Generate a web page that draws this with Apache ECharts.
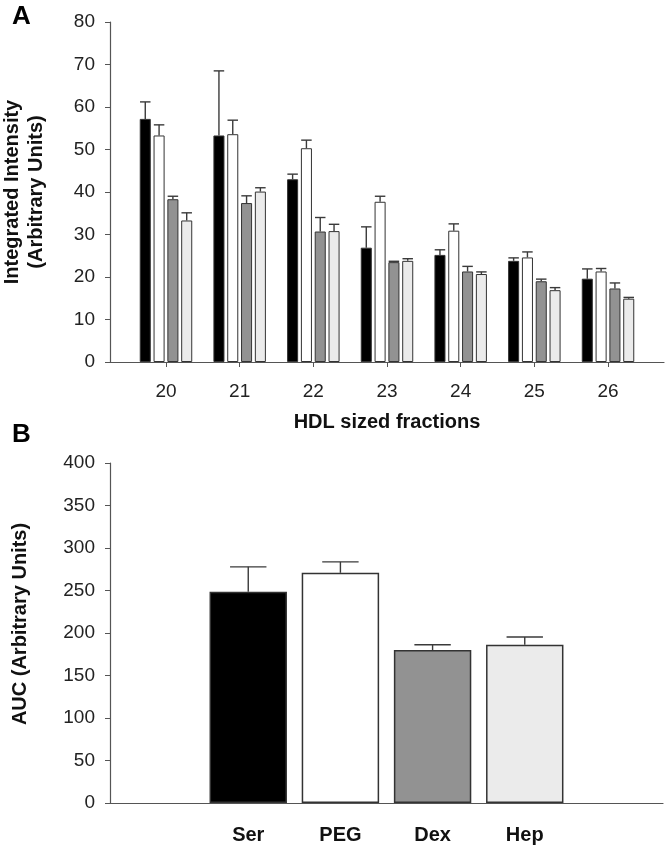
<!DOCTYPE html>
<html><head><meta charset="utf-8">
<script src="https://cdn.jsdelivr.net/npm/echarts@6/dist/echarts.min.js"></script>
<style>html,body{margin:0;padding:0;background:#fff}#c{width:667px;height:850px}</style>
</head><body><div id="c"></div>
<script>
// ---- Panel A data ----
const fractions = [20, 21, 22, 23, 24, 25, 26];
const serA = [57.2, 53.3, 43.0, 26.9, 25.2, 23.8, 19.6];
const serAUpper = [61.2, 68.5, 44.2, 31.8, 26.4, 24.5, 21.9];
const pegA = [53.3, 53.6, 50.3, 37.7, 30.9, 24.6, 21.3];
const pegAUpper = [55.8, 56.9, 52.2, 39.0, 32.5, 25.9, 22.0];
const dexA = [38.3, 37.4, 30.7, 23.5, 21.3, 19.0, 17.3];
const dexAUpper = [39.0, 39.1, 34.0, 23.7, 22.5, 19.5, 18.6];
const hepA = [33.3, 40.1, 30.8, 23.8, 20.7, 16.9, 14.9];
const hepAUpper = [35.1, 41.0, 32.4, 24.3, 21.2, 17.5, 15.2];

// ---- Panel B data ----
const groupNames = ['Ser', 'PEG', 'Dex', 'Hep'];
const aucB = [248.5, 270.8, 180.0, 186.2];
const aucBUpper = [277.8, 283.7, 186.2, 195.3];

const fills = ['#000000', '#ffffff', '#929292', '#ebebeb'];
const FONT = '"Liberation Sans", Arial, sans-serif';

const widthFracA = 0.15, gapFracA = 0.25;
const widthFracB = 0.84;

function errRender(idx, n, wFrac, gFrac, capFrac) {
  return function (params, api) {
    const x = api.value(0), lo = api.value(1), hi = api.value(2);
    const band = api.size([1, 0])[0];
    const bw = band * wFrac;
    const g = bw * gFrac;
    const off = (idx - (n - 1) / 2) * (bw + g);
    const p0 = api.coord([x, lo]);
    const p1 = api.coord([x, hi]);
    const cx = p0[0] + off;
    const cap = bw * capFrac / 2;
    const st = { stroke: '#3a3a3a', lineWidth: 1.4 };
    return {
      type: 'group',
      children: [
        { type: 'line', shape: { x1: cx, y1: p0[1], x2: cx, y2: p1[1] }, style: st },
        { type: 'line', shape: { x1: cx - cap, y1: p1[1], x2: cx + cap, y2: p1[1] }, style: st }
      ]
    };
  };
}

const seriesA = [serA, pegA, dexA, hepA];
const upperA = [serAUpper, pegAUpper, dexAUpper, hepAUpper];

const series = [];
seriesA.forEach((vals, s) => {
  series.push({
    type: 'bar', xAxisIndex: 0, yAxisIndex: 0,
    barWidth: (widthFracA * 100) + '%', barGap: (gapFracA * 100) + '%',
    data: fractions.map((f, i) => [f, vals[i]]),
    itemStyle: { color: fills[s], borderColor: '#333', borderWidth: 1 },
    silent: true
  });
});
seriesA.forEach((vals, s) => {
  series.push({
    type: 'custom', xAxisIndex: 0, yAxisIndex: 0,
    renderItem: errRender(s, 4, widthFracA, gapFracA, 0.95),
    data: fractions.map((f, i) => [f, vals[i], upperA[s][i]]),
    silent: true, z: 3
  });
});
series.push({
  type: 'bar', xAxisIndex: 1, yAxisIndex: 1,
  barWidth: (widthFracB * 100) + '%',
  data: groupNames.map((g, i) => ({ value: [i, aucB[i]], itemStyle: { color: fills[i] } })),
  itemStyle: { borderColor: '#333', borderWidth: 1.5 },
  silent: true
});
series.push({
  type: 'custom', xAxisIndex: 1, yAxisIndex: 1,
  renderItem: errRender(0, 1, widthFracB, 0, 0.47),
  data: groupNames.map((g, i) => [i, aucB[i], aucBUpper[i]]),
  silent: true, z: 3
});

const axisLine = { show: true, onZero: false, lineStyle: { color: '#555', width: 1.2 } };
const labelStyle = { color: '#222', fontSize: 19, fontFamily: FONT };
const nameStyle = { fontSize: 20, fontWeight: 'bold', color: '#111', fontFamily: FONT };

const option = {
  animation: false,
  backgroundColor: '#fff',
  title: [
    { text: 'A', left: 7, top: -1, textStyle: { fontSize: 26, fontWeight: 'bold', color: '#000', fontFamily: FONT } },
    { text: 'B', left: 7, top: 417, textStyle: { fontSize: 26, fontWeight: 'bold', color: '#000', fontFamily: FONT } }
  ],
  grid: [
    { left: 110, top: 22, width: 554, height: 340, containLabel: false, outerBoundsMode: 'none' },
    { left: 110, top: 463, width: 553, height: 340, containLabel: false, outerBoundsMode: 'none' }
  ],
  xAxis: [
    {
      type: 'value', gridIndex: 0, min: 19.24, max: 26.76,
      axisLine: axisLine,
      axisTick: { show: true, customValues: fractions, length: 5, lineStyle: { color: '#555' } },
      axisLabel: { customValues: fractions, margin: 20, ...labelStyle },
      splitLine: { show: false },
      name: 'HDL sized fractions', nameLocation: 'middle', nameGap: 50,
      nameTextStyle: nameStyle
    },
    {
      type: 'value', gridIndex: 1, min: -1.5, max: 4.5,
      axisLine: axisLine,
      axisTick: { show: false },
      axisLabel: { customValues: [0, 1, 2, 3], formatter: v => groupNames[v] || '', margin: 22,
        color: '#111', fontSize: 20, fontWeight: 'bold', fontFamily: FONT },
      splitLine: { show: false }
    }
  ],
  yAxis: [
    {
      type: 'value', gridIndex: 0, min: 0, max: 80, interval: 10,
      axisLine: axisLine,
      axisTick: { show: true, length: 5, lineStyle: { color: '#555' } },
      axisLabel: { margin: 15, ...labelStyle },
      splitLine: { show: false },
      name: 'Integrated Intensity\n(Arbitrary Units)', nameLocation: 'middle', nameGap: 62, nameRotate: 90,
      nameTextStyle: { ...nameStyle, lineHeight: 24 }
    },
    {
      type: 'value', gridIndex: 1, min: 0, max: 400, interval: 50,
      axisLine: axisLine,
      axisTick: { show: true, length: 5, lineStyle: { color: '#555' } },
      axisLabel: { margin: 15, ...labelStyle },
      splitLine: { show: false },
      name: 'AUC (Arbitrary Units)', nameLocation: 'middle', nameGap: 80, nameRotate: 90,
      nameTextStyle: { ...nameStyle, padding: [0, 0, 0, 18] }
    }
  ],
  series: series
};

const chart = echarts.init(document.getElementById('c'), null, { renderer: 'canvas' });
chart.setOption(option);
</script>
</body></html>
